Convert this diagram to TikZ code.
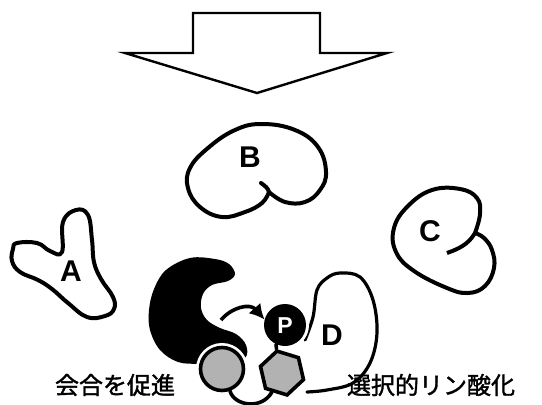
\documentclass[tikz,border=0pt]{standalone}
\usepackage{fontspec}
\setmainfont{Liberation Sans}
\newfontfamily\jpfont[FakeBold=1.5]{Noto Sans CJK JP}
\usetikzlibrary{arrows.meta,shapes.geometric}

\tikzset{
  protein/.style={draw=black, fill=white, line width=4pt, line join=round},
  protlabel/.style={font=\bfseries\fontsize{30}{30}\selectfont, inner sep=0pt},
  jplabel/.style={font=\jpfont\fontsize{24}{24}\selectfont, inner sep=0pt},
  halo/.style={preaction={draw=white, line width=9pt}},
  link/.style={draw=black, line width=3.6pt, line cap=round},
}

\begin{document}
\begin{tikzpicture}[x=1pt, y=-1pt]
\useasboundingbox (0,0) rectangle (542,405);

% big hollow down arrow
\draw[line width=2.4pt, line join=miter]
  (193,13) -- (320,13) -- (320,53) -- (387,53) -- (257,93) -- (125,53) -- (193,53) -- cycle;

% protein A
\draw[protein] plot[smooth cycle, tension=0.7] coordinates {
  (17,243) (37,243) (50,251) (62,252) (63,222) (76,210) (88,215) (92,240)
  (94,262) (101,279) (113,297) (114,309) (105,316) (87,317) (68,303)
  (52,289) (38,280) (20,272) (12,261) (13,249)};
\node[protlabel] (A) at (71,271) {A};

% protein B
\draw[protein] plot[smooth, tension=0.7] coordinates {
  (269,192) (285,202) (305,202) (320,190) (326,172) (318,147) (295,130)
  (262,124) (235,130) (208,148) (190,168) (188,188) (200,207) (222,217)
  (245,212) (262,203) (269,192)} -- cycle;
\draw[protein, fill=none, line cap=round] (269,192) .. controls (268,188) and (265,186) .. (261,183);
\node[protlabel] (B) at (250,157) {B};

% protein C
\draw[protein] plot[smooth, tension=0.7] coordinates {
  (475,233) (480,214) (477,198) (460,189) (432,190) (408,206) (394,228)
  (396,252) (414,271) (447,288) (468,293) (485,286) (494,268) (492,250)
  (484,238) (475,233)} -- cycle;
\draw[protein, fill=none] (475,233) .. controls (468,245) and (458,249) .. (447,253);
\node[protlabel] (C) at (430,231) {C};

% kinase (black)
\fill[black] plot[smooth cycle, tension=0.6] coordinates {
  (190,258) (215,259) (229,264) (235,274) (228,281) (212,285) (203,294)
  (201,308) (207,320) (220,328) (236,334) (246,345) (245,358) (225,365)
  (200,364) (178,362) (160,350) (150,330) (149,310) (154,289) (166,270)};

% substrate D
\draw[line width=3.2pt, line cap=round] plot[smooth, tension=0.6] coordinates {
  (305,340) (313,317) (317,290) (327,278) (340,273) (360,277) (373,300)
  (377,333) (370,363) (353,383) (327,390) (307,392)};
\node[protlabel] (D) at (332,335) {D};

% docking domain and phospho-site
\node[circle, draw=black, fill=gray!60, line width=3.6pt, minimum size=43pt,
      inner sep=0pt, halo] (g) at (222,369) {};
\node[regular polygon, regular polygon sides=6, shape border rotate=43,
      draw=black, fill=gray!60, line width=3.6pt, minimum size=45pt,
      inner sep=0pt, halo] (hex) at (282,373) {};
\node[circle, fill=black, minimum size=42pt, inner sep=0pt,
      preaction={draw=white, line width=6pt}] (p) at (285,325) {};
\node[font=\bfseries\fontsize{23}{23}\selectfont, text=white, inner sep=0pt]
  (ptext) at (285,326) {P};

% linkers
\draw[link] (p.245) -- (hex.103);
\draw[link] (g.-70) .. controls (234,406) and (262,410) .. (hex.-118);

% phosphate transfer arrow
\coordinate (s) at (221,320);
\draw[line width=3.6pt, -{Latex[length=15pt,width=16pt]}]
  (s) .. controls (232,307) and (250,303) .. (p.165);

% annotations
\node[jplabel] (t1) at (115,385) {会合を促進};
\node[jplabel] (t2) at (431,385) {選択的リン酸化};
\end{tikzpicture}
\end{document}
